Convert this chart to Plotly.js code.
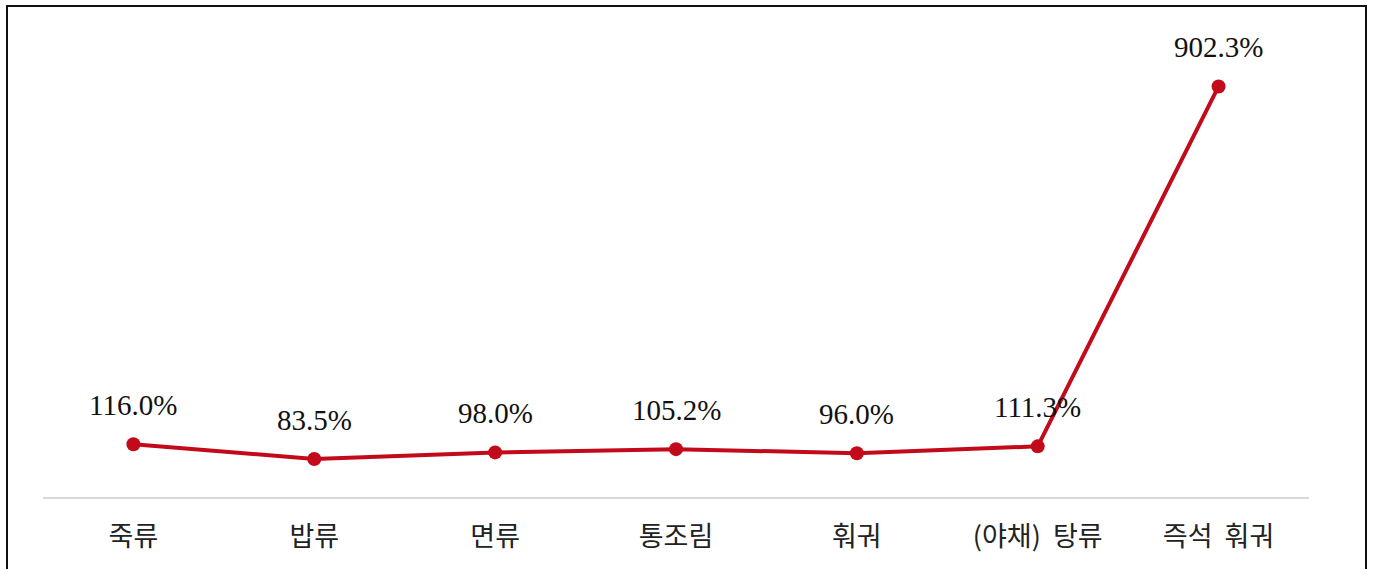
<!DOCTYPE html>
<html>
<head>
<meta charset="utf-8">
<script src="https://cdn.plot.ly/plotly-3.0.1.min.js"></script>
<style>
  html, body { margin: 0; padding: 0; background: #fff; }
  #wrap { position: relative; width: 1374px; height: 569px; }
  #chart { position: absolute; left: 0; top: 0; width: 1374px; height: 569px; }
  #frame { position: absolute; left: 6px; top: 5px; width: 1361px; height: 570px;
           border: 2px solid #111; pointer-events: none; box-sizing: border-box; }
</style>
</head>
<body>
<div id="wrap">
  <div id="chart"></div>
  <div id="frame"></div>
</div>
<script>
const categories = ["죽류", "밥류", "면류", "통조림", "훠궈", "(야채)\u00a0\u00a0탕류", "즉석\u00a0\u00a0훠궈"];
const values = [116.0, 83.5, 98.0, 105.2, 96.0, 111.3, 902.3];
const valueLabels = ["116.0%", "83.5%", "98.0%", "105.2%", "96.0%", "111.3%", "902.3%"];

const lineColor = "#C20A1A";

const trace = {
  type: "scatter",
  mode: "lines+markers",
  x: categories,
  y: values,
  line: { color: lineColor, width: 4 },
  marker: { color: lineColor, size: 14 },
  hoverinfo: "skip",
  cliponaxis: false
};

const annotations = categories.map((c, i) => ({
  x: c, y: values[i], xref: "x", yref: "y",
  text: valueLabels[i], showarrow: false,
  yshift: 39,
  font: { family: "Liberation Serif, serif", size: 29, color: "#111" }
}));

const layout = {
  width: 1374, height: 569,
  margin: { l: 42.5, r: 64.5, t: 42, b: 72 },
  paper_bgcolor: "#fff", plot_bgcolor: "#fff",
  showlegend: false,
  xaxis: {
    type: "category",
    range: [-0.5, 6.5],
    showgrid: false, zeroline: false,
    showline: true, linecolor: "#d9d9d9", linewidth: 2,
    ticks: "outside", ticklen: 15, tickcolor: "rgba(0,0,0,0)",
    tickfont: { family: "Noto Sans CJK KR, sans-serif", size: 27, color: "#222" },
    fixedrange: true
  },
  yaxis: {
    range: [0, 1000],
    visible: false, showgrid: false, zeroline: false,
    fixedrange: true
  },
  annotations: annotations
};

Plotly.newPlot("chart", [trace], layout, { displayModeBar: false, staticPlot: true });
</script>
</body>
</html>
